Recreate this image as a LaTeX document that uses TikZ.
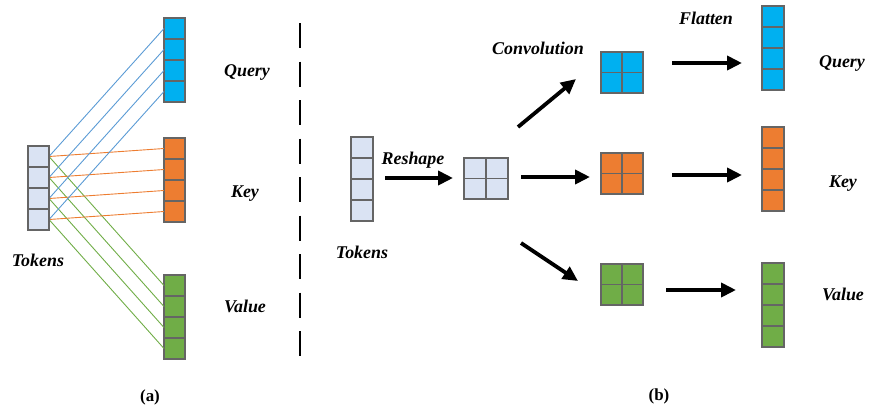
\documentclass[tikz,border=0pt]{standalone}
\usepackage{fontspec}
\setmainfont{Liberation Serif}
\usetikzlibrary{arrows.meta}
\definecolor{qblue}{HTML}{00B0F0}
\definecolor{korange}{HTML}{ED7D31}
\definecolor{vgreen}{HTML}{70AD47}
\definecolor{tok}{HTML}{DAE3F3}
\definecolor{bord}{HTML}{656565}
\definecolor{lblue}{HTML}{5B9BD5}
\tikzset{
  cell/.style={draw=bord, line width=1.1bp, minimum width=#1, inner sep=0pt, outer sep=0pt},
  lbl/.style={font=\fontsize{18}{20}\selectfont\bfseries\itshape, anchor=base, inner sep=0pt},
  sub/.style={font=\fontsize{17}{20}\selectfont\bfseries, anchor=base, inner sep=0pt},
  bigarrow/.style={line width=3.8bp, -{Triangle[length=15bp,width=14bp]}},
  thin/.style={line width=0.9bp},
}
% column of 4 cells: name, fill, x-left, y-top, width, cell height
\newcommand{\cellcol}[6]{%
  \foreach \i in {1,...,4}{%
    \node[cell=#5bp, minimum height=#6bp, fill=#2, anchor=north west] (#1-\i) at (#3,{#4+(\i-1)*#6}) {};
  }}
% 2x2 grid: name, fill, x-left, y-top, cell width, cell height
\newcommand{\cellgrid}[6]{%
  \node[cell=#5bp, minimum height=#6bp, fill=#2, anchor=north west] (#1-11) at (#3,#4) {};
  \node[cell=#5bp, minimum height=#6bp, fill=#2, anchor=north west] (#1-12) at ({#3+#5},#4) {};
  \node[cell=#5bp, minimum height=#6bp, fill=#2, anchor=north west] (#1-21) at (#3,{#4+#6}) {};
  \node[cell=#5bp, minimum height=#6bp, fill=#2, anchor=north west] (#1-22) at ({#3+#5},{#4+#6}) {};
  \coordinate (#1) at ({#3+#5},{#4+#6});
}
\begin{document}
\begin{tikzpicture}[x=1bp,y=-1bp]
\useasboundingbox (0,0) rectangle (870,409);
% ---------- (a) ----------
\cellcol{at}{tok}{28}{146}{21}{21}
\cellcol{aq}{qblue}{164}{18}{21}{21}
\cellcol{ak}{korange}{164}{138}{21}{21}
\cellcol{av}{vgreen}{164}{275}{21}{21}
\begin{scope}[on background layer/.try]
\foreach \i in {1,...,4}{
  \draw[thin, lblue] (at-\i.east) -- (aq-\i.west);
  \draw[thin, korange] (at-\i.east) -- (ak-\i.west);
  \draw[thin, vgreen] (at-\i.east) -- (av-\i.west);
}
\end{scope}
\foreach \i in {1,...,4}{
  \node[cell=21bp, minimum height=21bp, fill=tok, anchor=north west] at (at-\i.north west) {};
}
\node[lbl] (ql) at (247,76) {Query};
\node[lbl] (kl) at (245,197) {Key};
\node[lbl] (vl) at (245,312) {Value};
\node[lbl] (tl) at (38,266) {Tokens};
\node[sub] (la) at (150,401) {(a)};
% divider
\coordinate (d1) at (300,23);
\coordinate (d2) at (300,357);
\draw[line width=2bp, dash pattern=on 25bp off 13.5bp] (d1) -- (d2);
% ---------- (b) ----------
\cellcol{bt}{tok}{351}{137}{22}{21}
\cellgrid{g}{tok}{464}{158}{22}{20.5}
\cellgrid{gq}{qblue}{601}{52}{21}{20.5}
\cellgrid{gk}{korange}{601}{153}{21}{20.5}
\cellgrid{gv}{vgreen}{601}{264}{21}{20.5}
\cellcol{fq}{qblue}{762}{6}{22}{21}
\cellcol{fk}{korange}{762}{127}{22}{21}
\cellcol{fv}{vgreen}{762}{263}{22}{21}
\node[lbl] (tbl) at (362,258) {Tokens};
\node[lbl] (rl) at (413,164) {Reshape};
\node[lbl] (cl) at (538,54) {Convolution};
\node[lbl] (fl) at (706,24) {Flatten};
\node[lbl] (qbl) at (842,67) {Query};
\node[lbl] (kbl) at (843,187) {Key};
\node[lbl] (vbl) at (843,300) {Value};
\node[sub] (lb) at (659,400) {(b)};
% arrows
\coordinate (r1) at (385,178);
\coordinate (r2) at (453,178);
\coordinate (u1) at (518,127);
\coordinate (u2) at (576,79);
\coordinate (m1) at (521,177);
\coordinate (m2) at (590,177);
\coordinate (w1) at (521,243);
\coordinate (w2) at (578,281);
\coordinate (f1) at (672,63);
\coordinate (f2) at (742,63);
\coordinate (f3) at (672,175);
\coordinate (f4) at (742,175);
\coordinate (f5) at (666,290);
\coordinate (f6) at (736,290);
\draw[bigarrow] (r1) -- (r2);
\draw[bigarrow] (u1) -- (u2);
\draw[bigarrow] (m1) -- (m2);
\draw[bigarrow] (w1) -- (w2);
\draw[bigarrow] (f1) -- (f2);
\draw[bigarrow] (f3) -- (f4);
\draw[bigarrow] (f5) -- (f6);
\end{tikzpicture}
\end{document}
